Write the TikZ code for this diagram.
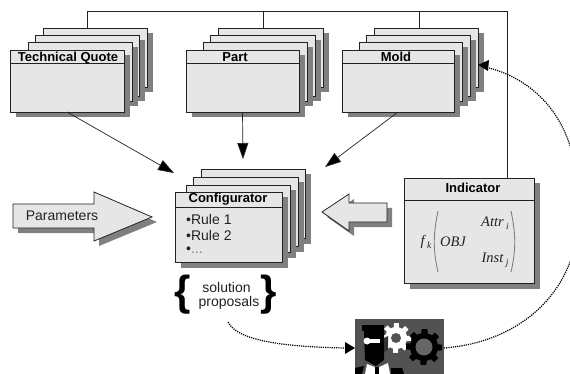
\documentclass[tikz,border=0pt]{standalone}
\usepackage{fontspec}
\setmainfont{Liberation Sans}
\newfontfamily\mathserif[Ligatures=TeX]{Liberation Serif}
\usetikzlibrary{arrows.meta,shadows,calc}
\definecolor{sheetfill}{HTML}{E6E6E6}
\definecolor{shade}{HTML}{808080}
\definecolor{ink}{HTML}{222222}
\tikzset{
  sheetbox/.style={draw=ink,line width=0.8pt,fill=sheetfill,anchor=north west,inner sep=0pt,outer sep=0pt,
    drop shadow={shadow xshift=5.5pt,shadow yshift=-5.5pt,fill=shade,opacity=1}},
  titletext/.style={font=\fontsize{13}{15}\selectfont\bfseries,text=black,inner sep=0pt},
  bodytext/.style={font=\fontsize{14}{16}\selectfont,text=ink,inner sep=0pt},
  serifmath/.style={font=\mathserif\itshape\fontsize{14.5}{16}\selectfont,text=ink,inner sep=0pt},
  connector/.style={draw=ink,line width=0.7pt},
  headarrow/.style={connector,-{Triangle[length=16pt,width=11pt,fill=black]}},
  dottedarrow/.style={draw=black,line width=1.2pt,dash pattern=on 1.2pt off 1pt},
  bigarrow/.style={draw=ink,line width=0.8pt,fill=sheetfill},
  bigshadow/.style={fill=shade},
}
% name, left, top, right, bottom
\newcommand{\sheetat}[5]{%
  \pgfmathsetmacro{\sw}{#4-#2}\pgfmathsetmacro{\sh}{#5-#3}%
  \node[sheetbox,minimum width=\sw pt,minimum height=\sh pt] (#1) at (#2,#3) {};}
% cx, cy, r1, r2, colour
\newcommand{\gearat}[5]{%
  \fill[#5] plot[domain=0:360,samples=97] ({#1+((mod(\x+11,45)<22.5)?#4:#3)*cos(\x)},{#2+((mod(\x+11,45)<22.5)?#4:#3)*sin(\x)}) -- cycle;}
\newcommand{\subidx}[1]{\,\raisebox{-3pt}{\fontsize{9.5}{10}\selectfont #1}}
\begin{document}
\begin{tikzpicture}[x=1pt,y=-1pt]
\useasboundingbox (0,0) rectangle (570,374);
\clip (0,0) rectangle (570,374);
\fill[white] (0,0) rectangle (570,374);
% Technical Quote stack
\sheetat{tqc}{43}{28}{147}{87}
\sheetat{tqb}{35}{35}{139}{96}
\sheetat{tqa}{28}{42}{132}{101}
\sheetat{tq}{10}{50}{124}{112}
\draw[connector] (10,63.5) -- (124,63.5);
\node[titletext] (tqt) at (68,58) {Technical Quote};
% Part stack
\sheetat{ptc}{218}{28}{323}{87}
\sheetat{ptb}{210}{35}{315}{96}
\sheetat{pta}{203}{42}{307}{101}
\sheetat{pt}{186}{50}{299}{112}
\draw[connector] (186,63.5) -- (299,63.5);
\node[titletext] (ptt) at (235,57) {Part};
% Mold stack
\sheetat{mdc}{374}{28}{478}{87}
\sheetat{mdb}{366}{35}{470}{96}
\sheetat{mda}{359}{42}{462}{101}
\sheetat{md}{342}{50}{454}{112}
\draw[connector] (342,63.5) -- (454,63.5);
\node[titletext] (mdt) at (396,57) {Mold};
% Configurator stack
\sheetat{cfc}{201}{169}{305}{238}
\sheetat{cfb}{193}{177}{298}{246}
\sheetat{cfa}{186}{185}{290}{252}
\sheetat{cf}{175}{192}{282}{262}
\draw[connector] (175,207) -- (282,207);
\node[titletext] (cft) at (228,199) {Configurator};
\node[bodytext,anchor=west] (rule1) at (186,219.5) {•Rule 1};
\node[bodytext,anchor=west] (rule2) at (186,235) {•Rule 2};
\node[bodytext,anchor=west] (rule3) at (186,250) {•\textcolor{gray}{...}};
% Indicator
\sheetat{ind}{404}{178}{534}{283}
\draw[connector] (404,200) -- (534,200);
\node[titletext] (indt) at (473,188) {Indicator};
\node[serifmath] (fk) at (426,242) {f\subidx{k}};
\node[serifmath] (obj) at (453,242) {OBJ};
\node[serifmath] (attr) at (495,223) {Attr\subidx{i}};
\node[serifmath] (inst) at (495,260) {Inst\subidx{j}};
\draw[draw=gray,line width=0.9pt] (438,211) .. controls (433,235) and (433,250) .. (438,272);
\draw[draw=gray,line width=0.9pt] (511,211) .. controls (516,235) and (516,250) .. (511,272);
% Block arrows
\fill[bigshadow,shift={(5,5)}] (13,204) -- (94,204) -- (94,192) -- (152,217) -- (94,241) -- (94,228) -- (13,228) -- cycle;
\draw[bigarrow] (13,204) -- (94,204) -- (94,192) -- (152,217) -- (94,241) -- (94,228) -- (13,228) -- cycle;
\node[bodytext] (par) at (62,216) {Parameters};
\fill[bigshadow,shift={(5,5)}] (322,212) -- (349,194) -- (349,203) -- (387,203) -- (387,222) -- (349,222) -- (349,231) -- cycle;
\draw[bigarrow] (322,212) -- (349,194) -- (349,203) -- (387,203) -- (387,222) -- (349,222) -- (349,231) -- cycle;
% solution proposals
\node[bodytext] (sol) at (226.5,287) {solution};
\node[bodytext] (prop) at (229,303) {proposals};
\node[font=\fontsize{42}{42}\selectfont\bfseries,inner sep=0pt] (lb) at (182.5,295) {\{};
\node[font=\fontsize{42}{42}\selectfont\bfseries,inner sep=0pt] (rb) at (268.5,295) {\}};
% Picture
\fill[black!68] (355,319) rectangle (444,374);
\coordinate (picL) at (355,348);
\coordinate (picR) at (444,348);
\gearat{396}{338}{11}{15}{white}
\fill[black!68] (396,338) circle (5);
\gearat{424}{347}{14}{18}{black}
\fill[black!60] (424,347) circle (8.5);
\fill[black] (362,325) rectangle (384,331);
\fill[black] (364,331) -- (384,331) -- (384,360) -- (376,366) -- (365,360) -- cycle;
\fill[black!80] (384,338) -- (388,336) -- (388,350) -- (384,352) -- cycle;
\fill[white] (366,339) rectangle (380,343);
\fill[white] (367,341) circle (3.5);
\fill[white] (365,374) -- (367,364) -- (377,368) -- (388,363) -- (390,374) -- cycle;
\fill[black] (375,367) -- (379,367) -- (379,374) -- (375,374) -- cycle;
\fill[black] (355,368) -- (364,366) -- (362,374) -- (355,374) -- cycle;
\fill[black] (391,368) -- (402,368) -- (404,374) -- (391,374) -- cycle;
% Connectors
\coordinate (busa) at ($(tqc.north west)+(44,0)$);
\coordinate (busb) at ($(ptc.north west)+(45,0)$);
\coordinate (busc) at ($(mdc.north west)+(45,0)$);
\coordinate (busd) at ($(ind.north west)+(103,0)$);
\draw[connector] (busa) -- (87,11) -- (507,11) -- (busd);
\draw[connector] (busb) -- (263,11);
\draw[connector] (busc) -- (419,11);
\coordinate (cfgin1) at (174,173);
\coordinate (cfgin2) at (243,159);
\coordinate (cfgin3) at (325,167);
\draw[headarrow] (tq.south) -- (cfgin1);
\draw[headarrow] (pt.south) -- (cfgin2);
\draw[headarrow] (md.south) -- (cfgin3);
% Dotted curves
\coordinate (solstart) at (228,322);
\coordinate (moldin) at (478,65);
\draw[dottedarrow] (solstart) .. controls (238,342) and (290,347) .. (346,348);
\fill[black] (345,342) -- (355,348) -- (345,354) -- cycle;
\draw[dottedarrow] (picR) .. controls (525,342) and (585,285) .. (578,200) .. controls (578,120) and (535,80) .. (489,68);
\fill[black] (478,65) -- (489,60) -- (488,71) -- cycle;
\end{tikzpicture}
\end{document}
